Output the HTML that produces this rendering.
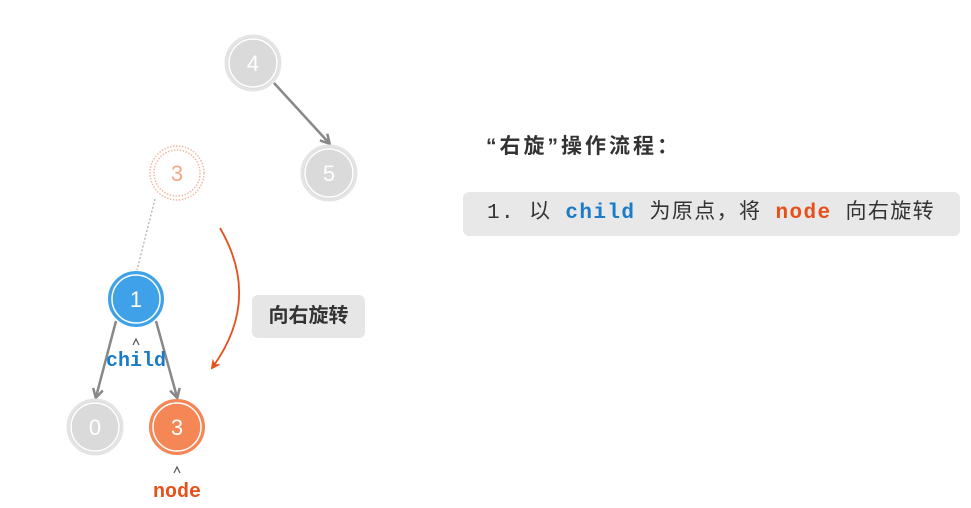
<!DOCTYPE html>
<html><head><meta charset="utf-8"><style>
body{margin:0;background:#fff;width:971px;height:508px;overflow:hidden;position:relative;font-family:"Liberation Sans","Noto Sans CJK SC",sans-serif}
.t{position:absolute;left:486px;top:130px;font-size:21px;font-weight:bold;color:#333;letter-spacing:3px}
.box{position:absolute;left:463px;top:192px;width:497px;height:44px;background:#e8e8e8;border-radius:6px;font-size:21px;color:#333;line-height:44px;padding-left:24px;box-sizing:border-box;font-family:"Liberation Mono","Noto Sans CJK SC",monospace;letter-spacing:1.4px;white-space:nowrap}
.lb{position:absolute;left:252px;top:295px;width:113px;height:43px;background:#e6e6e6;border-radius:6px;font-size:20px;font-weight:bold;color:#333;text-align:center;line-height:43px}
</style></head><body>
<svg width="971" height="508" style="position:absolute;left:0;top:0">
<defs><marker id="a" markerWidth="12" markerHeight="12" refX="9" refY="6" orient="auto" markerUnits="userSpaceOnUse"><path d="M1,1 L10,6 L1,11" fill="none" stroke="#888" stroke-width="2.5"/></marker>
<marker id="o" markerWidth="12" markerHeight="12" refX="8" refY="6" orient="auto" markerUnits="userSpaceOnUse"><path d="M0,1 L10,6 L0,11 L3,6z" fill="#e8501a"/></marker></defs>
<g style="font-family:'Liberation Sans',sans-serif" font-size="22" text-anchor="middle">
<line x1="274" y1="83" x2="329" y2="143" stroke="#888" stroke-width="2.5" marker-end="url(#a)"/>
<line x1="155" y1="199" x2="137" y2="270" stroke="#aaa" stroke-width="1.2" stroke-dasharray="2,2"/>
<line x1="116" y1="321" x2="96" y2="397" stroke="#888" stroke-width="2.5" marker-end="url(#a)"/>
<line x1="156" y1="321" x2="177" y2="397" stroke="#888" stroke-width="2.5" marker-end="url(#a)"/>
<path d="M220 228 Q262 300 212 368" fill="none" stroke="#e8501a" stroke-width="1.8" marker-end="url(#o)"/>
<circle cx="253" cy="63" r="27" fill="#dadada" stroke="#e4e4e4" stroke-width="3"/><circle cx="253" cy="63" r="24" fill="none" stroke="#fff" stroke-width="1.5"/>
<text x="253" y="71" fill="#fff">4</text>
<circle cx="329" cy="173" r="27" fill="#dadada" stroke="#e4e4e4" stroke-width="3"/><circle cx="329" cy="173" r="24" fill="none" stroke="#fff" stroke-width="1.5"/>
<text x="329" y="181" fill="#fff">5</text>
<circle cx="177" cy="173" r="27" fill="none" stroke="#f4b8a0" stroke-width="1.5" stroke-dasharray="1.5,1.5"/><circle cx="177" cy="173" r="23" fill="none" stroke="#f4b8a0" stroke-width="1.5" stroke-dasharray="1.5,1.5"/>
<text x="177" y="181" fill="#f4a888">3</text>
<circle cx="136" cy="299" r="27" fill="#3fa2e8" stroke="#3fa2e8" stroke-width="2"/><circle cx="136" cy="299" r="24" fill="none" stroke="#fff" stroke-width="1.5"/>
<text x="136" y="307" fill="#fff">1</text>
<circle cx="95" cy="427" r="27" fill="#dadada" stroke="#e4e4e4" stroke-width="3"/><circle cx="95" cy="427" r="24" fill="none" stroke="#fff" stroke-width="1.5"/>
<text x="95" y="435" fill="#fff">0</text>
<circle cx="177" cy="427" r="27" fill="#f58656" stroke="#f58656" stroke-width="2"/><circle cx="177" cy="427" r="24" fill="none" stroke="#fff" stroke-width="1.5"/>
<text x="177" y="435" fill="#fff">3</text>
<path d="M133 345 L136 339 L139 345" fill="none" stroke="#555" stroke-width="1.2"/>
<path d="M174 473 L177 467 L180 473" fill="none" stroke="#555" stroke-width="1.2"/>
<text x="136" y="366" fill="#1a7cc8" font-weight="bold" font-size="20" style="font-family:'Liberation Mono',monospace">child</text>
<text x="177" y="497" fill="#e8501a" font-weight="bold" font-size="20" style="font-family:'Liberation Mono',monospace">node</text>
</g></svg>
<div class="t">“右旋”操作流程：</div>
<div class="box">1. 以 <b style="color:#1a7cc8">child</b> 为原点，将 <b style="color:#e8501a">node</b> 向右旋转</div>
<div class="lb">向右旋转</div>
</body></html>
